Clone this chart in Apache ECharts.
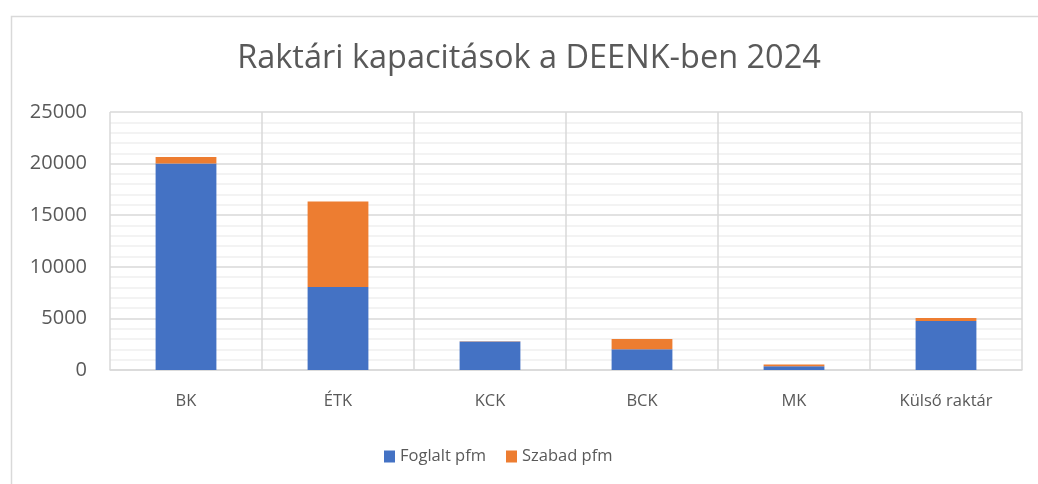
<!DOCTYPE html>
<html>
<head>
<meta charset="utf-8">
<script src="https://cdn.jsdelivr.net/npm/echarts@6/dist/echarts.min.js"></script>
<style>
  html, body { margin: 0; padding: 0; background: #fff; }
  #chart { width: 1038px; height: 484px; }
</style>
</head>
<body>
<div id="chart"></div>
<script>
// raktárak
var categories = ['BK', 'ÉTK', 'KCK', 'BCK', 'MK', 'Külső raktár']
// foglalt / szabad polcfolyóméter
var foglalt = [20000, 8050, 2750, 2000, 370, 4750]
var szabad = [630, 8280, 30, 1000, 160, 280]

var textColor = '#595959'
var font = 'Open Sans'

var chart = echarts.init(document.getElementById('chart'))
chart.setOption({
    animation: false,
    textStyle: { fontFamily: font },
    title: {
        text: 'Raktári kapacitások a DEENK-ben 2024',
        left: 524,
        top: 37,
        textAlign: 'center',
        textStyle: { color: textColor, fontSize: 32.5, fontWeight: 'normal', fontFamily: font }
    },
    // keret a diagram körül
    graphic: [{
        type: 'rect',
        left: 9,
        top: 14,
        shape: { width: 1040, height: 480 },
        style: { fill: 'none', stroke: '#d9d9d9', lineWidth: 1.5 },
        silent: true
    }],
    legend: {
        bottom: 14,
        left: 379,
        itemWidth: 11,
        itemHeight: 12,
        itemGap: 20,
        icon: 'rect',
        textStyle: { color: textColor, fontSize: 16.5, fontFamily: font },
        data: ['Foglalt pfm', 'Szabad pfm']
    },
    grid: {
        left: 110,
        right: 16,
        top: 112,
        bottom: 114
    },
    xAxis: {
        type: 'category',
        data: categories,
        axisLine: { lineStyle: { color: '#d9d9d9', width: 1.5 } },
        axisTick: { show: false },
        axisLabel: { color: textColor, fontSize: 16.5, margin: 23 },
        splitLine: { show: true, lineStyle: { color: '#d9d9d9', width: 1.5 } }
    },
    yAxis: {
        type: 'value',
        min: 0,
        max: 25000,
        interval: 5000,
        axisLine: { show: false },
        axisTick: { show: false },
        axisLabel: { color: textColor, fontSize: 20, margin: 23, formatter: function (v) { return String(v) } },
        splitLine: { lineStyle: { color: '#d9d9d9', width: 1.5 } },
        minorTick: { show: false, splitNumber: 5 },
        minorSplitLine: { show: true, lineStyle: { color: '#f0f0f0', width: 1.5 } }
    },
    series: [
        {
            name: 'Foglalt pfm',
            type: 'bar',
            stack: 'pfm',
            barWidth: '40%',
            itemStyle: { color: '#4472c4' },
            data: foglalt
        },
        {
            name: 'Szabad pfm',
            type: 'bar',
            stack: 'pfm',
            barWidth: '40%',
            itemStyle: { color: '#ed7d31' },
            data: szabad
        }
    ]
})
</script>
</body>
</html>
